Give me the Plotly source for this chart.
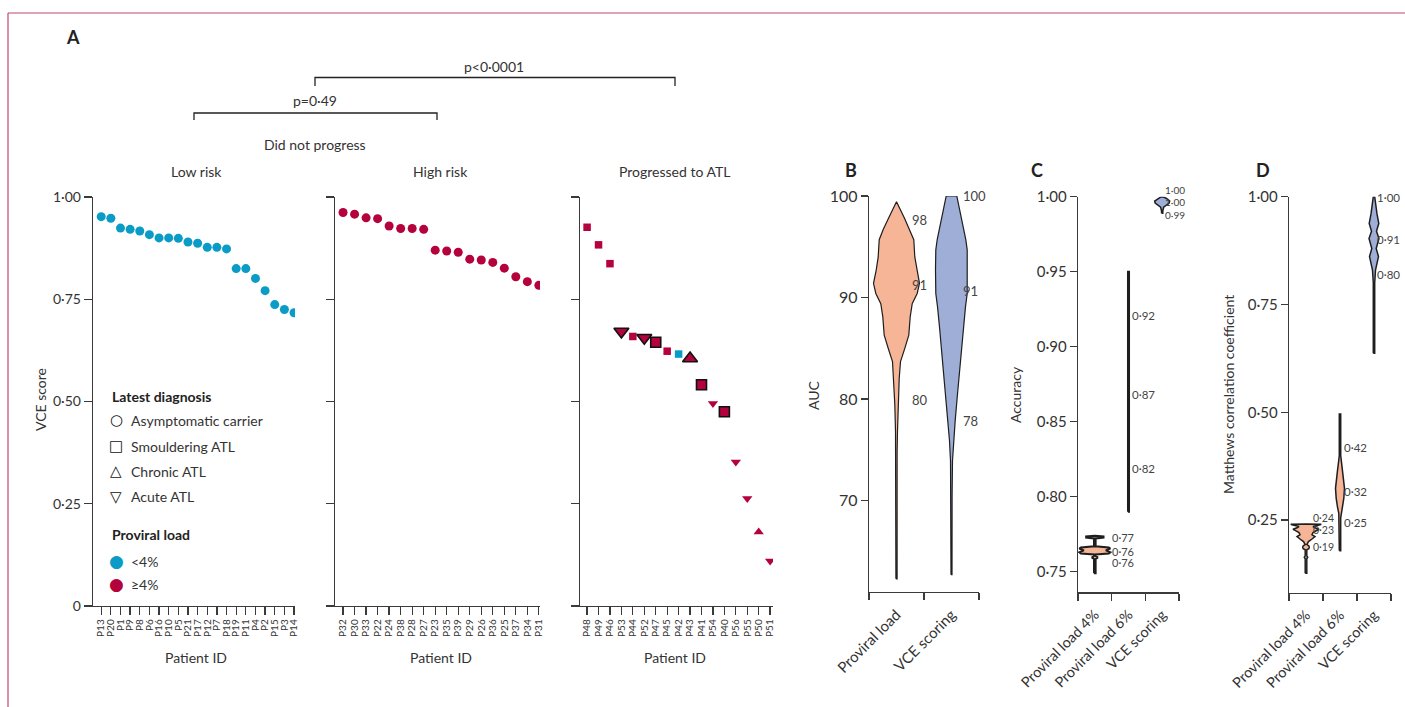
import plotly.graph_objects as go

# ---------------- data: panel A ----------------
low_ids = ["P13", "P20", "P1", "P9", "P8", "P6", "P16", "P10", "P5", "P21", "P17",
           "P12", "P7", "P18", "P19", "P11", "P4", "P2", "P15", "P3", "P14"]
low_vce = [0.952, 0.948, 0.924, 0.921, 0.917, 0.908, 0.900, 0.900, 0.899, 0.890, 0.887,
           0.877, 0.877, 0.873, 0.825, 0.825, 0.801, 0.771, 0.737, 0.725, 0.717]

high_ids = ["P32", "P30", "P33", "P22", "P24", "P38", "P28", "P27", "P23", "P35", "P39",
            "P29", "P26", "P36", "P25", "P37", "P34", "P31"]
high_vce = [0.962, 0.958, 0.949, 0.947, 0.929, 0.923, 0.923, 0.921, 0.870, 0.868, 0.865,
            0.848, 0.846, 0.840, 0.826, 0.805, 0.793, 0.784]

prog_ids = ["P48", "P49", "P46", "P53", "P44", "P52", "P47", "P45", "P42", "P43", "P41",
            "P54", "P40", "P56", "P55", "P50", "P51"]
prog_vce = [0.926, 0.883, 0.837, 0.671, 0.659, 0.656, 0.645, 0.623, 0.616, 0.605, 0.541,
            0.495, 0.475, 0.352, 0.263, 0.181, 0.110]
prog_dx = ["Smouldering ATL", "Smouldering ATL", "Smouldering ATL", "Acute ATL", "Smouldering ATL",
           "Acute ATL", "Smouldering ATL", "Smouldering ATL", "Smouldering ATL", "Chronic ATL",
           "Smouldering ATL", "Acute ATL", "Smouldering ATL", "Acute ATL", "Acute ATL",
           "Chronic ATL", "Acute ATL"]
prog_pvl = ["≥4%", "≥4%", "≥4%", "≥4%", "≥4%", "≥4%", "≥4%", "≥4%", "<4%", "≥4%", "≥4%",
            "≥4%", "≥4%", "≥4%", "≥4%", "≥4%", "≥4%"]
prog_outlined = [False, False, False, True, False, True, True, False, False, True, True,
                 False, True, False, False, False, False]

# ---------------- data: panel B (AUC violins) ----------------
auc_categories = ["Proviral load", "VCE scoring"]
auc_pl_grid = [62.3, 74.8, 76.8, 79.5, 82.0, 83.7, 85.0, 86.3, 88.1, 89.4, 90.4, 91.4,
               92.7, 94.0, 95.7, 96.7, 97.8, 99.44]
auc_pl_density = [0.026, 0.026, 0.043, 0.074, 0.117, 0.174, 0.361, 0.535, 0.596, 0.683,
                  0.90, 1.0, 0.883, 0.796, 0.752, 0.578, 0.348, 0.0]
auc_pl_labels = ["98", "91", "80"]
auc_pl_label_y = [97.6, 91.2, 79.9]

auc_vce_grid = [62.7, 70.6, 73.9, 75.9, 77.9, 80.5, 83.1, 85.0, 87.1, 89.1, 90.4, 92.7,
                94.7, 95.7, 97.8, 100.0]
auc_vce_density = [0.022, 0.026, 0.043, 0.087, 0.161, 0.261, 0.361, 0.435, 0.522, 0.609,
                   0.683, 0.696, 0.683, 0.622, 0.435, 0.230]
auc_vce_labels = ["100", "91", "78"]
auc_vce_label_y = [100.0, 90.6, 77.8]

# ---------------- data: panel C (accuracy violins) ----------------
acc_categories = ["Proviral load 4%", "Proviral load 6%", "VCE scoring"]
acc_pl4_grid = [0.7490, 0.7585, 0.7592, 0.7598, 0.7605, 0.7615, 0.7622, 0.7630, 0.7642,
                0.7655, 0.7662, 0.7670, 0.7722, 0.7728, 0.7736, 0.7740]
acc_pl4_density = [0.052, 0.052, 0.161, 0.161, 0.052, 0.052, 0.903, 1.0, 0.71, 1.0, 0.903,
                   0.052, 0.052, 0.561, 0.561, 0.0]
acc_pl4_labels = ["0·77", "0·76", "0·76"]
acc_pl4_label_y = [0.7730, 0.7632, 0.7562]

acc_pl6_grid = [0.790, 0.950]
acc_pl6_density = [0.04, 0.04]
acc_pl6_labels = ["0·92", "0·87", "0·82"]
acc_pl6_label_y = [0.921, 0.868, 0.819]

acc_vce_grid = [0.9889, 0.9905, 0.9930, 0.9945, 0.9958, 0.9971, 0.9985, 0.9996, 1.0]
acc_vce_density = [0.039, 0.039, 0.097, 0.258, 0.452, 0.484, 0.323, 0.129, 0.039]
acc_vce_labels = ["1·00", "1·00", "0·99"]
acc_vce_label_y = [1.0045, 0.9967, 0.9880]

# ---------------- data: panel D (MCC violins) ----------------
mcc_categories = ["Proviral load 4%", "Proviral load 6%", "VCE scoring"]
mcc_pl4_grid = [0.1266, 0.160, 0.1637, 0.167, 0.181, 0.1835, 0.1869, 0.1903, 0.193, 0.200,
                0.206, 0.2116, 0.216, 0.2209, 0.225, 0.2286, 0.232, 0.2348, 0.2390, 0.2402,
                0.2410]
mcc_pl4_density = [0.05, 0.05, 0.11, 0.05, 0.05, 0.175, 0.206, 0.175, 0.05, 0.156, 0.375,
                   0.5625, 0.375, 0.4375, 0.625, 0.8125, 0.5625, 0.4375, 0.875, 0.956, 0.0]
mcc_pl4_labels = ["0·24", "0·23", "0·19"]
mcc_pl4_label_y = [0.255, 0.226, 0.187]

mcc_pl6_grid = [0.179, 0.255, 0.2655, 0.28, 0.30, 0.3235, 0.345, 0.365, 0.389, 0.40, 0.496]
mcc_pl6_density = [0.044, 0.044, 0.075, 0.156, 0.2375, 0.281, 0.2375, 0.156, 0.075, 0.044,
                   0.044]
mcc_pl6_labels = ["0·42", "0·32", "0·25"]
mcc_pl6_label_y = [0.418, 0.316, 0.244]

mcc_vce_grid = [0.637, 0.800, 0.830, 0.845, 0.861, 0.880, 0.903, 0.920, 0.938, 0.960,
                0.985, 1.0]
mcc_vce_density = [0.044, 0.044, 0.094, 0.1875, 0.281, 0.1375, 0.3125, 0.156, 0.30,
                   0.1875, 0.094, 0.044]
mcc_vce_labels = ["1·00", "0·91", "0·80"]
mcc_vce_label_y = [0.999, 0.901, 0.820]

# ---------------- styling ----------------
W, H = 1405, 707
FONT = "Lato, 'DejaVu Sans', sans-serif"
AX = "#3a3a3a"
TXT = "#333333"
BLUE = "#0a9cc6"
RED = "#b4023d"
SALMON = "#f7b597"
PERI = "#9eaed7"
OUTLINE = "#1e1e1e"

pvl_color = {"<4%": BLUE, "≥4%": RED}
dx_symbol = {"Asymptomatic carrier": "circle", "Smouldering ATL": "square",
             "Chronic ATL": "triangle-up", "Acute ATL": "triangle-down"}
size_small = {"circle": 9, "square": 7.5, "triangle-up": 9, "triangle-down": 9}
size_big = {"circle": 11, "square": 10, "triangle-up": 13, "triangle-down": 13}


def pxx(x):
    return x / W


def pyy(y):
    return 1 - y / H


# panel geometry (pixel domains and value ranges)
B_X, B_Y, B_R = [869, 979], [592, 196], [61.0, 100]
C_X, C_Y, C_R = [1078, 1179], [592.3, 196.7], [0.7363, 1.0]
D_X, D_Y, D_R = [1289, 1391], [592.7, 196.7], [0.0814, 1.0]

fig = go.Figure()

# ---------------- panel A scatter ----------------
fig.add_trace(go.Scatter(x=list(range(len(low_ids))), y=low_vce, mode="markers",
                         marker=dict(symbol="circle", size=9, color=BLUE, opacity=1,
                                     line=dict(width=0)),
                         xaxis="x", yaxis="y", hoverinfo="skip", showlegend=False))
fig.add_trace(go.Scatter(x=list(range(len(high_ids))), y=high_vce, mode="markers",
                         marker=dict(symbol="circle", size=9, color=RED, opacity=1,
                                     line=dict(width=0)),
                         xaxis="x2", yaxis="y2", hoverinfo="skip", showlegend=False))
syms = [dx_symbol[d] for d in prog_dx]
fig.add_trace(go.Scatter(
    x=list(range(len(prog_ids))), y=prog_vce, mode="markers",
    marker=dict(symbol=syms, opacity=1,
                size=[size_big[s] if o else size_small[s] for s, o in zip(syms, prog_outlined)],
                color=[pvl_color[p] for p in prog_pvl],
                line=dict(width=[1.6 if o else 0 for o in prog_outlined], color="#111111")),
    xaxis="x3", yaxis="y3", hoverinfo="skip", showlegend=False))


# ---------------- violins ----------------
def add_violin(xa, ya, center, grid, dens, scale, fill, lw=1.2):
    xs = [center - d * scale for d in dens] + [center + d * scale for d in reversed(dens)]
    ys = list(grid) + list(reversed(grid))
    xs.append(xs[0])
    ys.append(ys[0])
    fig.add_trace(go.Scatter(x=xs, y=ys, mode="lines", fill="toself", fillcolor=fill,
                             line=dict(color=OUTLINE, width=lw), xaxis=xa, yaxis=ya,
                             hoverinfo="skip", showlegend=False))


annotations = []


def add_labels(xa, ya, x, texts, ys, size, ypix, rng):
    ppu = (ypix[0] - ypix[1]) / (rng[1] - rng[0])
    for t, yv in zip(texts, ys):
        shift = 0
        if yv > rng[1]:
            shift = (yv - rng[1]) * ppu
            yv = rng[1]
        annotations.append(dict(x=x, y=yv, xref=xa, yref=ya, text=t, showarrow=False,
                                xanchor="left", yanchor="middle", yshift=shift, borderpad=0,
                                font=dict(size=size, color="#444444", family=FONT)))


# B
add_violin("x4", "y4", 0.5, auc_pl_grid, auc_pl_density, 0.418, SALMON)
add_violin("x4", "y4", 1.5, auc_vce_grid, auc_vce_density, 0.418, PERI)
add_labels("x4", "y4", 0.5 + 0.27, auc_pl_labels, auc_pl_label_y, 13, B_Y, B_R)
add_labels("x4", "y4", 1.5 + 0.19, auc_vce_labels, auc_vce_label_y, 13, B_Y, B_R)
# C
add_violin("x5", "y5", 0.5, acc_pl4_grid, acc_pl4_density, 0.46, SALMON, 2.0)
add_violin("x5", "y5", 1.5, acc_pl6_grid, acc_pl6_density, 0.46, SALMON, 1.8)
add_violin("x5", "y5", 2.5, acc_vce_grid, acc_vce_density, 0.46, PERI, 1.5)
add_labels("x5", "y5", 0.5 + 0.48, acc_pl4_labels, acc_pl4_label_y, 11, C_Y, C_R)
add_labels("x5", "y5", 1.5 + 0.06, acc_pl6_labels, acc_pl6_label_y, 11.5, C_Y, C_R)
add_labels("x5", "y5", 2.5 + 0.05, acc_vce_labels, acc_vce_label_y, 10, C_Y, C_R)
# D
add_violin("x6", "y6", 0.5, mcc_pl4_grid, mcc_pl4_density, 0.47, SALMON, 1.5)
add_violin("x6", "y6", 1.5, mcc_pl6_grid, mcc_pl6_density, 0.47, SALMON, 1.5)
add_violin("x6", "y6", 2.5, mcc_vce_grid, mcc_vce_density, 0.47, PERI, 1.5)
add_labels("x6", "y6", 0.5 + 0.19, mcc_pl4_labels, mcc_pl4_label_y, 10.5, D_Y, D_R)
add_labels("x6", "y6", 1.5 + 0.08, mcc_pl6_labels, mcc_pl6_label_y, 11.5, D_Y, D_R)
add_labels("x6", "y6", 2.5 + 0.06, mcc_vce_labels, mcc_vce_label_y, 11.5, D_Y, D_R)


# ---------------- axes ----------------
def base_axis(dom, rng, anchor):
    return dict(domain=dom, range=rng, anchor=anchor, showgrid=False, zeroline=False,
                showline=True, linecolor=AX, linewidth=1.3, ticks="outside", ticklen=7,
                tickwidth=1.3, tickcolor=AX, fixedrange=True, automargin=False,
                tickfont=dict(family=FONT, color=TXT, size=14))


ydomA = [pyy(606), pyy(197)]
yvals = [0, 0.25, 0.5, 0.75, 1.0]
ytext = ["0", "0·25", "0·50", "0·75", "1·00"]

xA = [("x", "y", [93, 295], [-0.85, 20.1], low_ids),
      ("x2", "y2", [335, 540], [-0.7, 17.1], high_ids),
      ("x3", "y3", [580, 773], [-0.62, 16.25], prog_ids)]
layout_axes = {}
for i, (xn, yn, dom, rng, ids) in enumerate(xA):
    xk = "xaxis" if xn == "x" else "xaxis" + xn[1:]
    yk = "yaxis" if yn == "y" else "yaxis" + yn[1:]
    xd = base_axis([pxx(dom[0]), pxx(dom[1])], rng, yn)
    xd.update(tickmode="array", tickvals=list(range(len(ids))), ticktext=ids, tickangle=-90,
              tickfont=dict(family=FONT, color=TXT, size=10), ticklen=8)
    yd = base_axis(ydomA, [0, 1.0], xn)
    yd.update(tickmode="array", tickvals=yvals, ticktext=ytext, ticklen=8,
              showticklabels=(i == 0))
    layout_axes[xk] = xd
    layout_axes[yk] = yd


def cat_xaxis(dom, ncat, labels, anchor, size):
    d = base_axis([pxx(dom[0]), pxx(dom[1])], [0, ncat], anchor)
    d.update(tickmode="array", tickvals=[k + 0.5 for k in range(ncat)], ticktext=labels,
             tickangle=-45, tickcolor="rgba(0,0,0,0)", ticklen=7,
             tickfont=dict(family=FONT, color=TXT, size=size),
             minor=dict(tickmode="array", tickvals=list(range(ncat + 1)), ticks="outside",
                        ticklen=7, tickwidth=1.3, tickcolor=AX))
    return d


layout_axes["xaxis4"] = cat_xaxis(B_X, 2, auc_categories, "y4", 15)
yB = base_axis([pyy(B_Y[0]), pyy(B_Y[1])], B_R, "x4")
yB.update(tickmode="array", tickvals=[70, 80, 90, 100], ticktext=["70", "80", "90", "100"],
          tickfont=dict(family=FONT, color=TXT, size=16))
layout_axes["yaxis4"] = yB

layout_axes["xaxis5"] = cat_xaxis(C_X, 3, acc_categories, "y5", 14.5)
yC = base_axis([pyy(C_Y[0]), pyy(C_Y[1])], C_R, "x5")
yC.update(tickmode="array", tickvals=[0.75, 0.80, 0.85, 0.90, 0.95, 1.0],
          ticktext=["0·75", "0·80", "0·85", "0·90", "0·95", "1·00"],
          tickfont=dict(family=FONT, color=TXT, size=15))
layout_axes["yaxis5"] = yC

layout_axes["xaxis6"] = cat_xaxis(D_X, 3, mcc_categories, "y6", 14.5)
yD = base_axis([pyy(D_Y[0]), pyy(D_Y[1])], D_R, "x6")
yD.update(tickmode="array", tickvals=[0.25, 0.5, 0.75, 1.0],
          ticktext=["0·25", "0·50", "0·75", "1·00"],
          tickfont=dict(family=FONT, color=TXT, size=15))
layout_axes["yaxis6"] = yD


# ---------------- text annotations (paper) ----------------
def pa(x, y, text, size=14, xanchor="center", angle=0, color=TXT, bold=False):
    annotations.append(dict(x=pxx(x), y=pyy(y), xref="paper", yref="paper",
                            text=("<b>%s</b>" % text) if bold else text, showarrow=False,
                            xanchor=xanchor, yanchor="middle", textangle=angle,
                            font=dict(size=size, color=color, family=FONT)))


pa(73, 37, "A", 18, bold=True, color="#222222")
pa(494, 66, "p&lt;0·0001", 14)
pa(315, 100, "p=0·49", 14)
pa(315, 144, "Did not progress", 14)
pa(196, 172, "Low risk", 14)
pa(441, 172, "High risk", 14)
pa(674, 172, "Progressed to ATL", 14)
pa(40, 400, "VCE score", 14, angle=-90)
pa(196, 657, "Patient ID", 14)
pa(441, 657, "Patient ID", 14)
pa(675, 657, "Patient ID", 14)
pa(851, 170, "B", 18, bold=True, color="#222222")
pa(1037, 170, "C", 18, bold=True, color="#222222")
pa(1263, 170, "D", 18, bold=True, color="#222222")
pa(813, 395, "AUC", 14, angle=-90)
pa(1015, 395, "Accuracy", 14, angle=-90)
pa(1228, 395, "Matthews correlation coefficient", 14, angle=-90)

# legend of panel A
pa(110, 396, "Latest diagnosis", 14, xanchor="left", bold=True, color="#222222")
leg_dx = [("○", "Asymptomatic carrier", 420), ("□", "Smouldering ATL", 446),
          ("△", "Chronic ATL", 471), ("▽", "Acute ATL", 497)]
for sym, lab, yy in leg_dx:
    annotations.append(dict(x=pxx(116), y=pyy(yy), xref="paper", yref="paper", text=sym,
                            showarrow=False, xanchor="center", yanchor="middle",
                            font=dict(size=15, color="#111111", family="DejaVu Sans")))
    pa(129, yy, lab, 14, xanchor="left")
pa(110, 534, "Proviral load", 14, xanchor="left", bold=True, color="#222222")
for col, lab, yy in [(BLUE, "&lt;4%", 561), (RED, "≥4%", 584)]:
    annotations.append(dict(x=pxx(116), y=pyy(yy), xref="paper", yref="paper", text="●",
                            showarrow=False, xanchor="center", yanchor="middle",
                            font=dict(size=17, color=col, family="DejaVu Sans")))
    pa(129, yy, lab, 14, xanchor="left")

# ---------------- shapes: brackets + frame ----------------
shapes = []


def bracket(x0, x1, ytop, ybot):
    shapes.append(dict(type="path", xref="paper", yref="paper",
                       path="M %f %f L %f %f L %f %f L %f %f" % (
                           pxx(x0), pyy(ybot), pxx(x0), pyy(ytop), pxx(x1), pyy(ytop),
                           pxx(x1), pyy(ybot)),
                       line=dict(color="#222222", width=1.3)))


bracket(315, 675, 77.5, 86)
bracket(194, 437, 113, 120)
shapes.append(dict(type="line", xref="paper", yref="paper", x0=pxx(8), x1=1.0, y0=pyy(13),
                   y1=pyy(13), line=dict(color="#c2476b", width=1.2)))
shapes.append(dict(type="line", xref="paper", yref="paper", x0=pxx(8), x1=pxx(8), y0=pyy(13),
                   y1=0, line=dict(color="#c2476b", width=1.2)))

fig.update_layout(width=W, height=H,
                  margin=dict(l=0, r=0, t=0, b=0, pad=0, autoexpand=False), autosize=False,
                  template="none",
                  paper_bgcolor="white", plot_bgcolor="white", showlegend=False,
                  font=dict(family=FONT, color=TXT), annotations=annotations, shapes=shapes,
                  **layout_axes)

fig.write_html("out.html", include_plotlyjs=True, full_html=True,
               config={"displayModeBar": False, "staticPlot": True},
               post_script="document.body.style.margin='0px';")
